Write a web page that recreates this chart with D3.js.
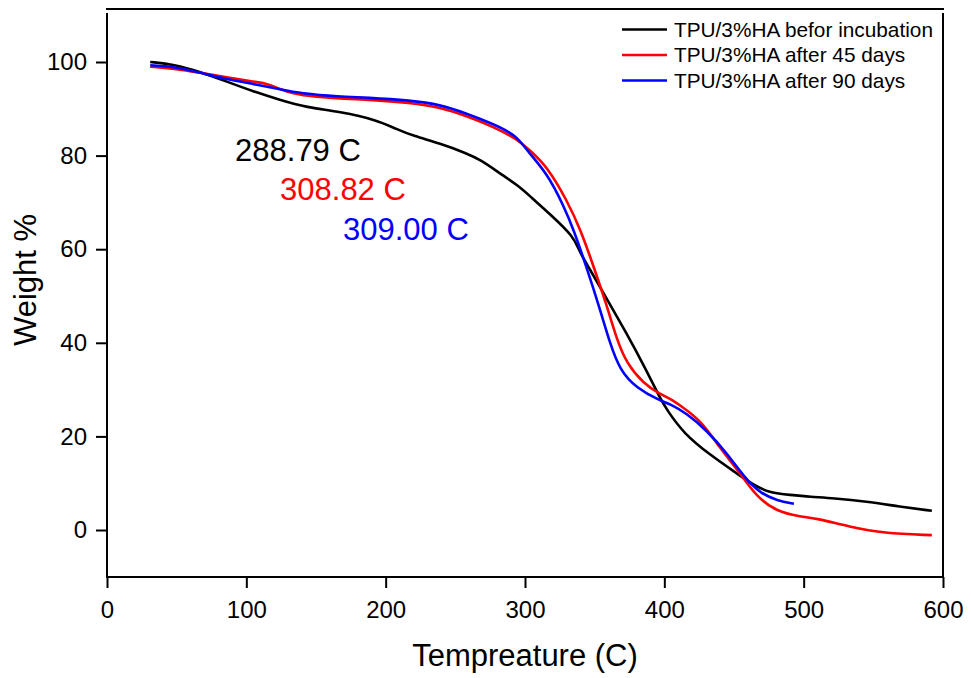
<!DOCTYPE html>
<html>
<head>
<meta charset="utf-8">
<script src="https://cdn.jsdelivr.net/npm/d3@7"></script>
<style>
  html, body { margin: 0; padding: 0; background: #fff; }
  svg { display: block; font-family: "Liberation Sans", Arial, sans-serif; }
</style>
</head>
<body>
<svg id="chart" width="971" height="678"></svg>
<script>
// ---- data ----
const seriesNames = ["TPU/3%HA befor incubation", "TPU/3%HA after 45 days", "TPU/3%HA after 90 days"];
const seriesColors = ["#000000", "#ff0000", "#0000ff"];

const blackTemp = [31, 48, 67, 86, 105, 124, 143, 167, 194, 208, 220, 239, 258, 268, 282, 296, 304, 318, 335, 339, 346, 356, 373, 387, 397, 402, 414, 433, 452, 464, 476, 490, 505, 521, 545, 569, 592];
const blackWeight = [100.0, 99.5, 97.9, 95.8, 93.7, 91.9, 90.3, 89.4, 87.6, 85.6, 84.2, 82.6, 80.5, 79.1, 76.2, 73.4, 71.2, 67.5, 62.7, 59.5, 56.0, 50.8, 42.0, 34.2, 28.1, 25.6, 20.6, 16.0, 12.1, 9.6, 7.9, 7.5, 7.1, 6.8, 6.1, 5.0, 4.1];

const redTemp = [31, 48, 67, 86, 105, 115, 124, 134, 148, 167, 186, 218, 239, 258, 277, 294, 304, 316, 330, 340, 349, 359, 366, 373, 385, 397, 404, 411, 426, 440, 454, 466, 481, 497, 509, 533, 557, 592];
const redWeight = [99.0, 98.6, 97.7, 96.7, 95.8, 95.4, 94.2, 93.2, 92.6, 92.2, 92.0, 91.3, 90.3, 88.5, 86.2, 83.6, 81.0, 77.6, 70.5, 64.1, 56.5, 47.7, 40.6, 35.6, 31.3, 29.0, 28.1, 26.7, 23.5, 17.5, 12.3, 7.1, 3.9, 2.9, 2.5, 0.7, -0.7, -1.1];

const blueTemp = [31, 48, 67, 86, 105, 124, 139, 167, 186, 218, 239, 258, 277, 294, 301, 316, 328, 335, 344, 354, 361, 368, 380, 397, 404, 416, 430, 445, 457, 469, 481, 493];
const blueWeight = [99.3, 99.0, 97.7, 96.3, 95.3, 94.2, 93.3, 92.6, 92.4, 91.8, 90.9, 89.0, 86.8, 84.3, 81.2, 76.2, 69.1, 64.1, 56.3, 47.0, 39.9, 34.2, 30.3, 27.6, 27.0, 24.9, 21.4, 16.4, 11.4, 7.8, 6.3, 5.6];

const xTicks = [0, 100, 200, 300, 400, 500, 600];
const yTicks = [0, 20, 40, 60, 80, 100];

const annotations = ["288.79 C", "308.82 C", "309.00 C"];
const annotationTemp = [91.9, 124.2, 169.4];
const annotationWeight = [78.85, 70.5, 62.0];

const xTitle = "Tempreature (C)";
const yTitle = "Weight %";

// ---- layout ----
const svg = d3.select("#chart");
const x = d3.scaleLinear().domain([0, 600]).range([107, 943]);
const y = d3.scaleLinear().domain([0, 100]).range([530, 62]);
const plotTop = 13, plotBottom = 577;

// frame lines
svg.append("line").attr("x1", 106).attr("x2", 944).attr("y1", 9).attr("y2", 9)
  .attr("stroke", "#000").attr("stroke-width", 2);
svg.append("line").attr("x1", 943).attr("x2", 943).attr("y1", plotTop).attr("y2", plotBottom)
  .attr("stroke", "#000").attr("stroke-width", 2);

// axes
const xAxis = d3.axisBottom(x).tickValues(xTicks).tickSize(11).tickSizeOuter(0).tickPadding(13);
const gx = svg.append("g").attr("transform", `translate(0,${plotBottom})`).call(xAxis);
gx.select(".domain").remove();
gx.selectAll("line").attr("stroke", "#000").attr("stroke-width", 2);
gx.selectAll("text").attr("font-size", 24).attr("font-family", "Liberation Sans, Arial, sans-serif").attr("fill", "#000");

const yAxis = d3.axisLeft(y).tickValues(yTicks).tickSize(11).tickSizeOuter(0).tickPadding(9);
const gy = svg.append("g").attr("transform", `translate(107,0)`).call(yAxis);
gy.select(".domain").remove();
gy.selectAll("line").attr("stroke", "#000").attr("stroke-width", 2);
gy.selectAll("text").attr("font-size", 24).attr("font-family", "Liberation Sans, Arial, sans-serif").attr("fill", "#000");

svg.append("line").attr("x1", 107).attr("x2", 107).attr("y1", plotTop).attr("y2", plotBottom + 1)
  .attr("stroke", "#000").attr("stroke-width", 2);
svg.append("line").attr("x1", 106).attr("x2", 944).attr("y1", plotBottom).attr("y2", plotBottom)
  .attr("stroke", "#000").attr("stroke-width", 2);

// titles
svg.append("text").attr("x", 525).attr("y", 666).attr("text-anchor", "middle")
  .attr("font-size", 31).attr("fill", "#000").text(xTitle);
svg.append("text").attr("transform", "translate(36,280) rotate(-90)").attr("text-anchor", "middle")
  .attr("font-size", 31).attr("fill", "#000").text(yTitle);

// series
const series = [
  { t: blackTemp, w: blackWeight },
  { t: redTemp, w: redWeight },
  { t: blueTemp, w: blueWeight }
];
const line = d3.line().x(d => x(d[0])).y(d => y(d[1])).curve(d3.curveBasis);
series.forEach((s, i) => {
  const pts = s.t.map((t, k) => [t, s.w[k]]);
  svg.append("path").datum(pts).attr("d", line)
    .attr("fill", "none").attr("stroke", seriesColors[i]).attr("stroke-width", 2.6)
    .attr("stroke-linejoin", "round");
});

// annotations
annotations.forEach((a, i) => {
  svg.append("text").attr("x", x(annotationTemp[i])).attr("y", y(annotationWeight[i]))
    .attr("font-size", 31).attr("fill", seriesColors[i]).text(a);
});

// legend
const legendY = [29.5, 55, 80.5];
seriesNames.forEach((n, i) => {
  svg.append("line").attr("x1", 622).attr("x2", 667).attr("y1", legendY[i]).attr("y2", legendY[i])
    .attr("stroke", seriesColors[i]).attr("stroke-width", 2.6);
  svg.append("text").attr("x", 674).attr("y", legendY[i] + 7).attr("font-size", 20.8)
    .attr("fill", "#000").text(n);
});
</script>
</body>
</html>
